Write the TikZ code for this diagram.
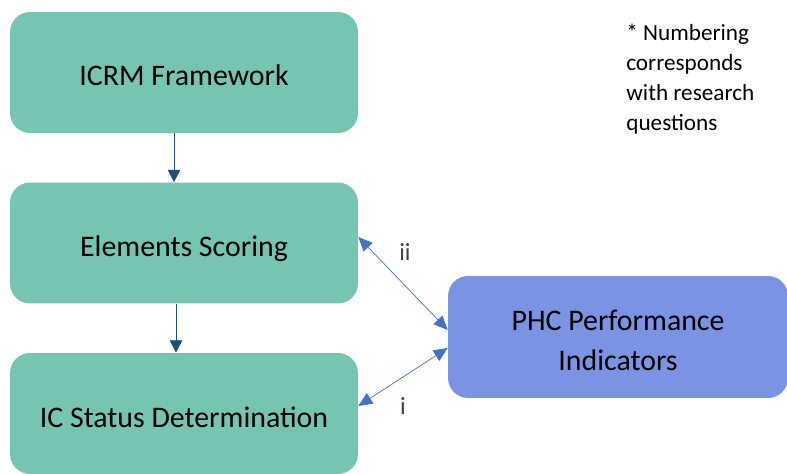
\documentclass[tikz,border=0pt]{standalone}
\usepackage{fontspec}
\setmainfont{Carlito}
\usetikzlibrary{arrows.meta}
\definecolor{boxgreen}{RGB}{118,196,178}
\definecolor{boxblue}{RGB}{123,147,227}
\definecolor{flowblue}{RGB}{31,78,121}
\definecolor{linkblue}{RGB}{68,114,196}
\tikzset{
  roundbox/.style={rounded corners=0.4cm, inner sep=0pt, align=center,
    font=\fontsize{17}{21}\selectfont},
  stagebox/.style={roundbox, fill=boxgreen, minimum width=6.96cm,
    minimum height=2.42cm, text height=0.6cm, text depth=0.06cm},
  outbox/.style={roundbox, fill=boxblue, minimum width=6.8cm, minimum height=2.44cm},
  flow/.style={flowblue, -{Triangle[length=7pt,width=7pt]}},
  link/.style={linkblue, {Triangle[length=8pt,width=7pt]}-{Triangle[length=8pt,width=7pt]}},
  numlabel/.style={font=\fontsize{14}{16}\selectfont, text=black!75}
}

\begin{document}
\begin{tikzpicture}[x=0.02cm,y=-0.02cm]
\useasboundingbox (0,0) rectangle (787,473);
\node[stagebox] (icrm) at (184,72.5) {ICRM Framework};
\node[stagebox] (scoring) at (184,243) {Elements Scoring};
\node[stagebox] (status) at (184,413.5) {IC Status Determination};
\node[outbox] (phc) at (618,337) {\rule{0pt}{0.54cm}PHC Performance\\[2pt]Indicators};
\draw[flow] ([xshift=-0.2cm]icrm.south) -- ([xshift=-0.2cm]scoring.north);
\draw[flow] ([xshift=-0.16cm]scoring.south) -- ([xshift=-0.16cm]status.north);
\draw[link] ([yshift=0.12cm]scoring.east) -- ([yshift=0.14cm]phc.west);
\draw[link] ([yshift=0.15cm]status.east) -- ([yshift=-0.22cm]phc.west);
\node[numlabel] (ii) at (405,252) {ii};
\node[numlabel] (i) at (403,406) {i};
\node[anchor=north west, align=left, inner sep=0pt,
  font=\fontsize{13.2}{17}\selectfont] (note) at (626,24)
  {* Numbering\\corresponds\\with research\\questions};
\end{tikzpicture}
\end{document}
